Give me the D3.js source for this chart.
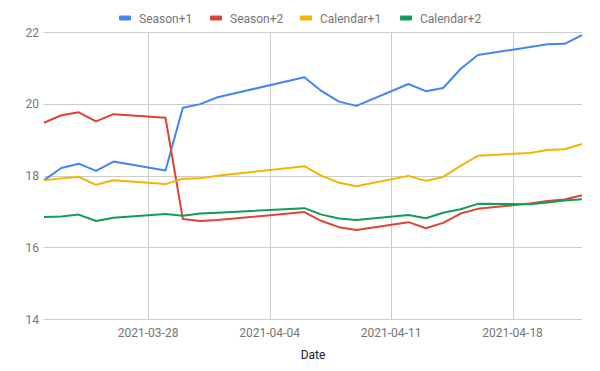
<!DOCTYPE html>
<html>
<head>
<meta charset="utf-8">
<script src="https://cdn.jsdelivr.net/npm/d3@7"></script>
<style>
  body { margin: 0; background: #fff; }
  text { font-family: Roboto, "Noto Sans", sans-serif; }
</style>
</head>
<body>
<svg width="600" height="371"></svg>
<script>
// data
var dates = ["2021-03-22","2021-03-23","2021-03-24","2021-03-25","2021-03-26",
             "2021-03-29","2021-03-30","2021-03-31","2021-04-01",
             "2021-04-06","2021-04-07","2021-04-08","2021-04-09",
             "2021-04-12","2021-04-13","2021-04-14","2021-04-15","2021-04-16",
             "2021-04-19","2021-04-20","2021-04-21","2021-04-22"];
var season1   = [17.87,18.21,18.33,18.13,18.39, 18.14,19.89,19.99,20.18, 20.74,20.35,20.06,19.94, 20.55,20.35,20.44,20.97,21.36, 21.58,21.66,21.67,21.91];
var season2   = [19.47,19.68,19.76,19.51,19.71, 19.61,16.79,16.73,16.76, 16.98,16.73,16.56,16.48, 16.70,16.53,16.68,16.94,17.07, 17.22,17.29,17.33,17.45];
var calendar1 = [17.87,17.92,17.96,17.74,17.87, 17.76,17.91,17.92,17.99, 18.26,17.99,17.80,17.70, 17.99,17.85,17.96,18.27,18.55, 18.63,18.71,18.73,18.88];
var calendar2 = [16.84,16.86,16.91,16.73,16.82, 16.93,16.88,16.94,16.96, 17.09,16.91,16.80,16.76, 16.90,16.81,16.96,17.06,17.21, 17.20,17.25,17.30,17.34];
var seriesNames = ["Season+1","Season+2","Calendar+1","Calendar+2"];
var yTicks = [14,16,18,20,22];
var xTicks = ["2021-03-28","2021-04-04","2021-04-11","2021-04-18"];

var colors = ["#4285f4","#db4437","#f4b400","#0f9d58"];
var allSeries = [season1, season2, calendar1, calendar2];

var svg = d3.select("svg"),
    width = +svg.attr("width"),
    height = +svg.attr("height");

var parse = d3.timeParse("%Y-%m-%d");
var fmt = d3.timeFormat("%Y-%m-%d");
var dt = dates.map(parse);

// plot area
var plotLeft = 44, plotRight = 582, plotTop = 32, plotBottom = 319;

var x = d3.scaleTime()
    .domain(d3.extent(dt))
    .range([plotLeft, plotRight]);
var y = d3.scaleLinear()
    .domain([14, 22])
    .range([plotBottom, plotTop]);

// gridlines
svg.append("g")
  .selectAll("line")
  .data(yTicks)
  .enter()
  .append("line")
    .attr("x1", plotLeft)
    .attr("x2", plotRight)
    .attr("y1", function(d){ return Math.round(y(d)) + 0.5 })
    .attr("y2", function(d){ return Math.round(y(d)) + 0.5 })
    .attr("stroke", "#cccccc")
    .attr("stroke-width", 1);

svg.append("g")
  .selectAll("line")
  .data(xTicks.map(parse))
  .enter()
  .append("line")
    .attr("x1", function(d){ return Math.round(x(d)) + 0.5 })
    .attr("x2", function(d){ return Math.round(x(d)) + 0.5 })
    .attr("y1", plotTop)
    .attr("y2", plotBottom)
    .attr("stroke", "#cccccc")
    .attr("stroke-width", 1);

// y labels
svg.append("g")
  .selectAll("text")
  .data(yTicks)
  .enter()
  .append("text")
    .attr("x", 39)
    .attr("y", function(d){ return y(d) + 4.5 })
    .attr("text-anchor", "end")
    .style("font-size", "12px")
    .style("fill", "#757575")
    .text(function(d){ return d });

// x labels
svg.append("g")
  .selectAll("text")
  .data(xTicks.map(parse))
  .enter()
  .append("text")
    .attr("x", function(d){ return x(d) })
    .attr("y", 337)
    .attr("text-anchor", "middle")
    .style("font-size", "12px")
    .style("fill", "#757575")
    .text(function(d){ return fmt(d) });

svg.append("text")
    .attr("x", (plotLeft + plotRight) / 2)
    .attr("y", 359)
    .attr("text-anchor", "middle")
    .style("font-size", "12px")
    .style("fill", "#222222")
    .text("Date");

// lines
var line = d3.line()
    .x(function(d, i){ return x(dt[i]) })
    .y(function(d){ return y(d) });

svg.append("g")
  .selectAll("path")
  .data(allSeries)
  .enter()
  .append("path")
    .attr("d", line)
    .attr("fill", "none")
    .attr("stroke", function(d, i){ return colors[i] })
    .attr("stroke-width", 2)
    .attr("stroke-linejoin", "round");

// legend
var legendX = [119, 210, 300, 400];
var lg = svg.append("g")
  .selectAll("g")
  .data(seriesNames)
  .enter()
  .append("g")
    .attr("transform", function(d, i){ return "translate(" + legendX[i] + ",18)" });

lg.append("rect")
    .attr("x", 0)
    .attr("y", -2.5)
    .attr("width", 12)
    .attr("height", 5)
    .attr("rx", 1)
    .attr("fill", function(d, i){ return colors[i] });

lg.append("text")
    .attr("x", 20)
    .attr("y", 4.5)
    .style("font-size", "12px")
    .style("fill", "#757575")
    .text(function(d){ return d });
</script>
</body>
</html>
